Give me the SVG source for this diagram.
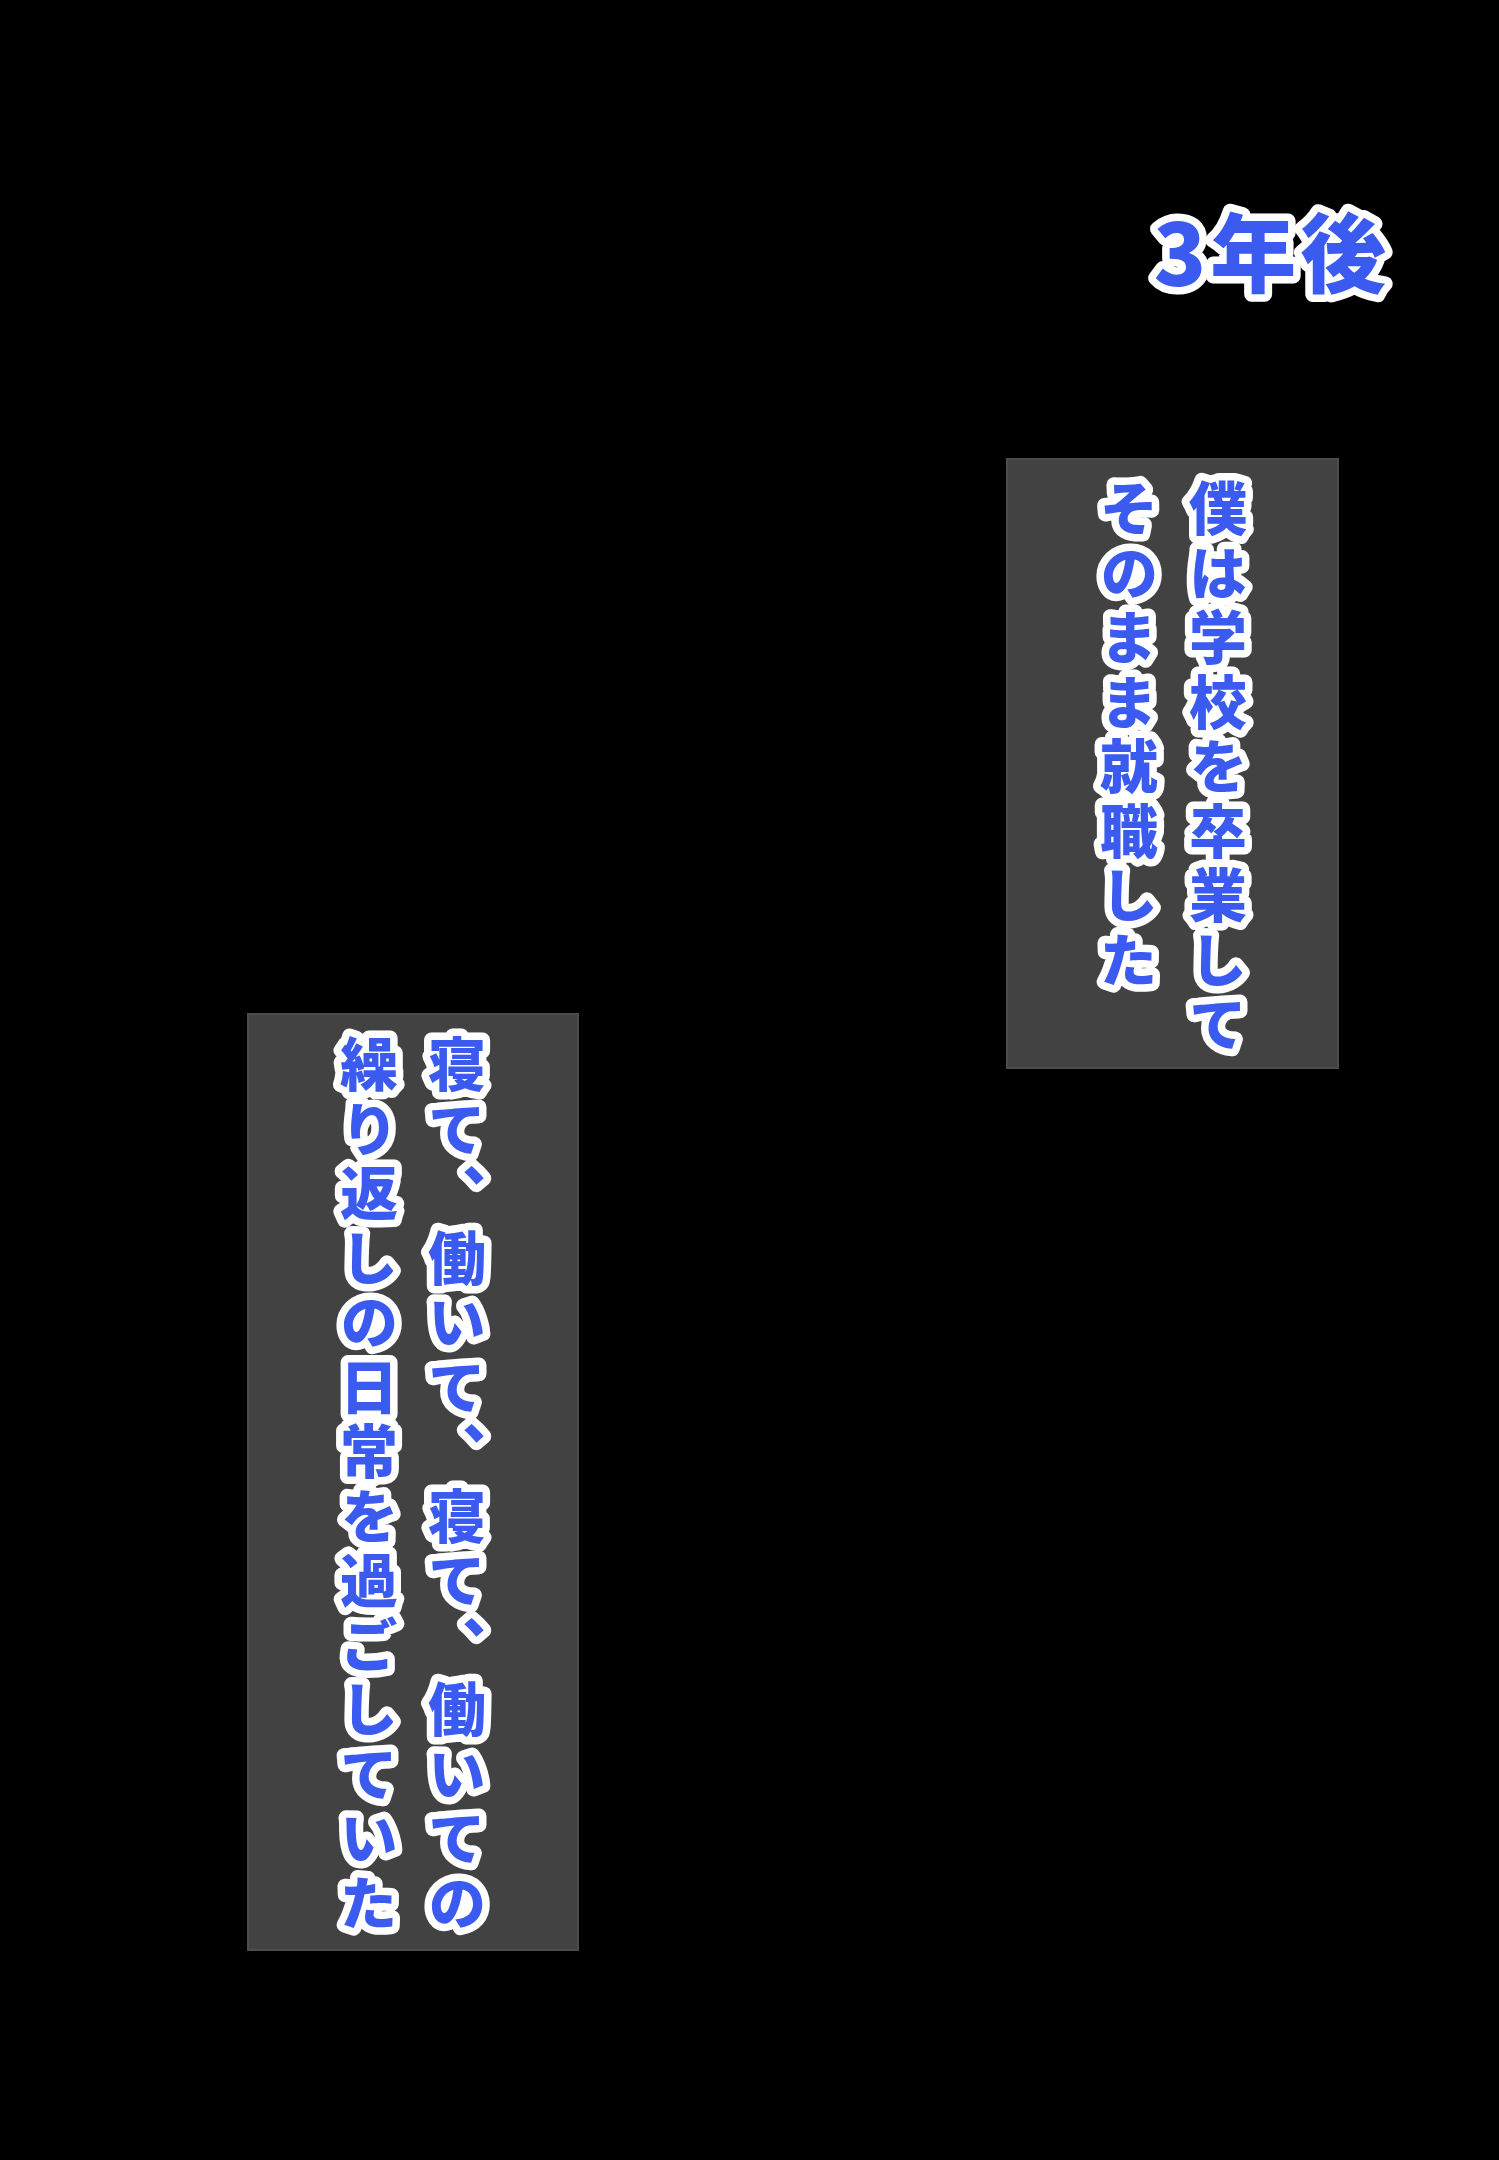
<svg xmlns="http://www.w3.org/2000/svg" width="1499" height="2160" viewBox="0 0 1499 2160">
<style>
.bg{fill:#000}
.box{fill:#424242;stroke:#4c4c4c;stroke-width:2}
.t{font-family:"Noto Sans CJK JP","Noto Sans CJK SC",sans-serif;font-weight:900;fill:#3b5bf0;stroke:#ffffff;stroke-width:15;stroke-linejoin:round;paint-order:stroke fill}
.v{font-size:58px;letter-spacing:6.5px;writing-mode:vertical-rl;text-orientation:upright}
</style>
<rect class="bg" x="0" y="0" width="1499" height="2160"/>
<g id="title">
<text class="t" x="1272" y="286" font-size="86" text-anchor="middle" letter-spacing="4">3年後</text>
</g>
<g id="box1">
<rect class="box" x="1007" y="459" width="331" height="609"/>
<text class="t v" x="1218" y="479">僕は学校を卒業して</text>
<text class="t v" x="1129" y="479">そのまま就職した</text>
</g>
<g id="box2">
<rect class="box" x="248" y="1014" width="330" height="936"/>
<text class="t v" x="457" y="1035">寝て、働いて、寝て、働いての</text>
<text class="t v" x="369" y="1035">繰り返しの日常を過ごしていた</text>
</g>
<g id="connectors"></g>
</svg>
